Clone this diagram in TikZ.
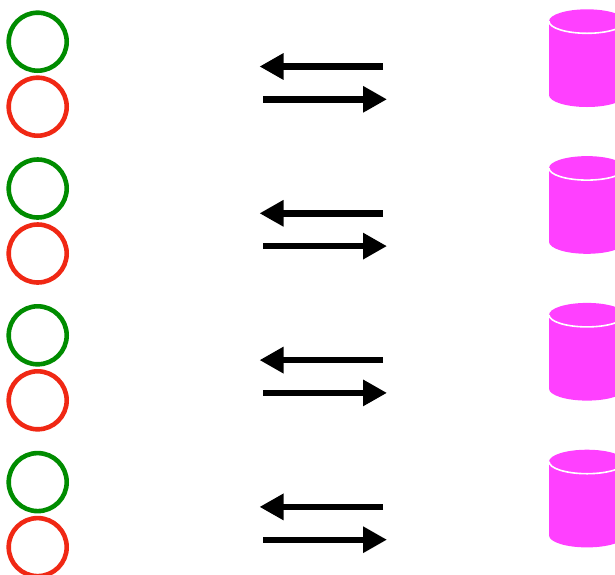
\documentclass[tikz,border=0pt]{standalone}
\usetikzlibrary{arrows.meta}
\definecolor{cgreen}{RGB}{0,140,0}
\definecolor{cred}{RGB}{240,40,20}
\definecolor{cmag}{RGB}{255,64,255}
\begin{document}
\begin{tikzpicture}[x=1pt,y=1pt,
  ring/.style={circle,draw=#1,line width=4.6pt,minimum size=58pt,inner sep=0pt},
  flow/.style={line width=6.4pt,-{Triangle[length=24pt,width=25pt]}},
  dbbox/.style={inner sep=0pt,minimum width=76pt,minimum height=98pt}]
\useasboundingbox (0,0) rectangle (615,-574);
\clip (0,0) rectangle (615,-574);
\foreach \k in {0,...,3}{
  \pgfmathsetmacro{\dy}{-146.8*\k}
  \begin{scope}[yshift=\dy pt]
    \node[ring=cgreen] (g\k) at (37.7,-41.7) {};
    \node[ring=cred] (r\k) at (37.7,-106.7) {};
    \coordinate (la\k) at (383,-66.5);
    \coordinate (lb\k) at (259.5,-66.5);
    \coordinate (ra\k) at (263,-99.3);
    \coordinate (rb\k) at (387,-99.3);
    \draw[flow] (la\k) -- (lb\k);
    \draw[flow] (ra\k) -- (rb\k);
    \node[dbbox] (c\k) at (587,-58.2) {};
    \fill[cmag] (549,-21.3) arc[start angle=180,end angle=0,x radius=38,y radius=12]
      -- (625,-95) arc[start angle=0,end angle=-180,x radius=38,y radius=12] -- cycle;
    \draw[white,line width=1.6pt] (549,-21.3) arc[start angle=180,end angle=360,x radius=38,y radius=12];
  \end{scope}
}
\end{tikzpicture}
\end{document}
